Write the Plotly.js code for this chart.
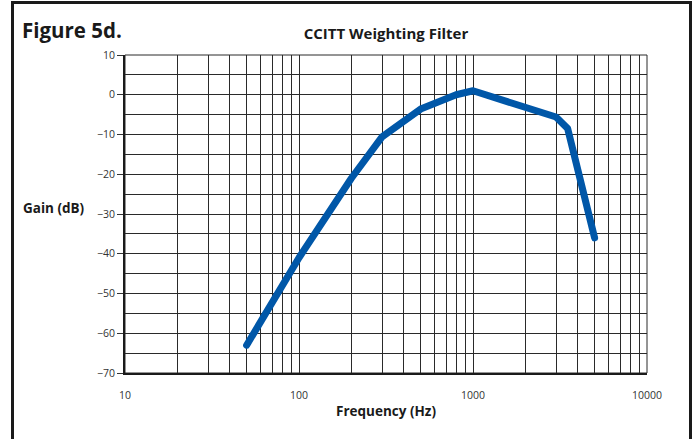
<!DOCTYPE html>
<html>
<head>
<meta charset="utf-8">
<script src="https://cdn.plot.ly/plotly-3.0.1.min.js"></script>
<style>
  html, body { margin: 0; padding: 0; background: #fff; }
  #chart { width: 696px; height: 439px; }
  #chart .scatterlayer .js-line { stroke-linecap: round !important; stroke-linejoin: round !important; }
</style>
</head>
<body>
<div id="chart"></div>
<script>
// Data
const frequencyHz = [50, 100, 200, 300, 500, 800, 1000, 3000, 3500, 5000];
const gainDb = [-63, -41, -21, -10.6, -3.6, 0, 1, -5.6, -8.5, -36];

const xMajorTicks = [10, 100, 1000, 10000];
const xMajorLabels = ['10', '100', '1000', '10000'];
const yTicks = [10, 0, -10, -20, -30, -40, -50, -60, -70];

// build log grid values (2..9 per decade) from the decade ticks
const xGridVals = [];
const xGridText = [];
xMajorTicks.forEach((d, i) => {
  xGridVals.push(d); xGridText.push(xMajorLabels[i]);
  if (i < xMajorTicks.length - 1) {
    for (let m = 2; m <= 9; m++) { xGridVals.push(d * m); xGridText.push(''); }
  }
});

const W = 696, H = 439;
const L = 125, R = 647, T = 55, B = 373;
const pw = R - L, ph = B - T;
const px = v => (v - L) / pw;
const py = v => (B - v) / ph;

const trace = {
  x: frequencyHz,
  y: gainDb,
  type: 'scatter',
  mode: 'lines',
  line: { color: '#0057a8', width: 7 },
  hoverinfo: 'x+y'
};

const gridCol = '#2a2a2a';
const fontFam = '"Open Sans", "Noto Sans", sans-serif';

const layout = {
  width: W, height: H,
  margin: { l: L, r: W - R, t: T, b: H - B, pad: 0 },
  paper_bgcolor: '#fff',
  plot_bgcolor: '#fff',
  showlegend: false,
  font: { family: fontFam, color: '#333', size: 10 },
  title: {
    text: '<b>CCITT Weighting Filter</b>',
    font: { family: fontFam, size: 15, color: '#1a1a1a' },
    x: 0.5, xref: 'paper',
    y: 1 - 34 / H, yref: 'container', yanchor: 'middle'
  },
  xaxis: {
    type: 'log',
    range: [1, 4],
    tickvals: xGridVals,
    ticktext: xGridText,
    ticks: '',
    showgrid: true,
    gridcolor: gridCol,
    gridwidth: 1,
    zeroline: false,
    showline: true,
    linecolor: '#1a1a1a',
    linewidth: 2,
    tickfont: { size: 10.5, color: '#333' },
    ticklabelstandoff: 11,
    title: {
      text: '<b>Frequency (Hz)</b>',
      font: { family: fontFam, size: 13.5, color: '#1a1a1a' },
      standoff: 6
    },
    fixedrange: true
  },
  yaxis: {
    range: [-70, 10],
    tickvals: yTicks,
    ticks: 'outside',
    ticklen: 6,
    tickwidth: 1,
    tickcolor: '#333',
    showgrid: true,
    gridcolor: gridCol,
    gridwidth: 1,
    zeroline: false,
    showline: true,
    linecolor: '#1a1a1a',
    linewidth: 2,
    minor: { dtick: 5, showgrid: true, gridcolor: gridCol, gridwidth: 1, ticks: '' },
    tickfont: { size: 10.5, color: '#333' },
    fixedrange: true
  },
  annotations: [
    {
      text: '<b>Figure 5d.</b>',
      xref: 'paper', yref: 'paper',
      x: px(20), y: py(30),
      xanchor: 'left', yanchor: 'middle',
      showarrow: false,
      font: { family: fontFam, size: 20.5, color: '#1a1a1a' }
    },
    {
      text: '<b>Gain (dB)</b>',
      xref: 'paper', yref: 'paper',
      x: px(21), y: py(208),
      xanchor: 'left', yanchor: 'middle',
      showarrow: false,
      font: { family: fontFam, size: 13.5, color: '#1a1a1a' }
    }
  ],
  shapes: [
    {
      type: 'rect', xref: 'paper', yref: 'paper',
      x0: 0, x1: 1, y0: 0, y1: 1,
      line: { color: gridCol, width: 1 }, layer: 'below'
    },
    {
      type: 'rect', xref: 'paper', yref: 'paper',
      x0: px(12.5), x1: px(690.5), y0: py(448), y1: py(2.5),
      line: { color: '#1a1a1a', width: 3 }, layer: 'above'
    }
  ]
};

Plotly.newPlot('chart', [trace], layout, { displayModeBar: false, staticPlot: true });
</script>
</body>
</html>
